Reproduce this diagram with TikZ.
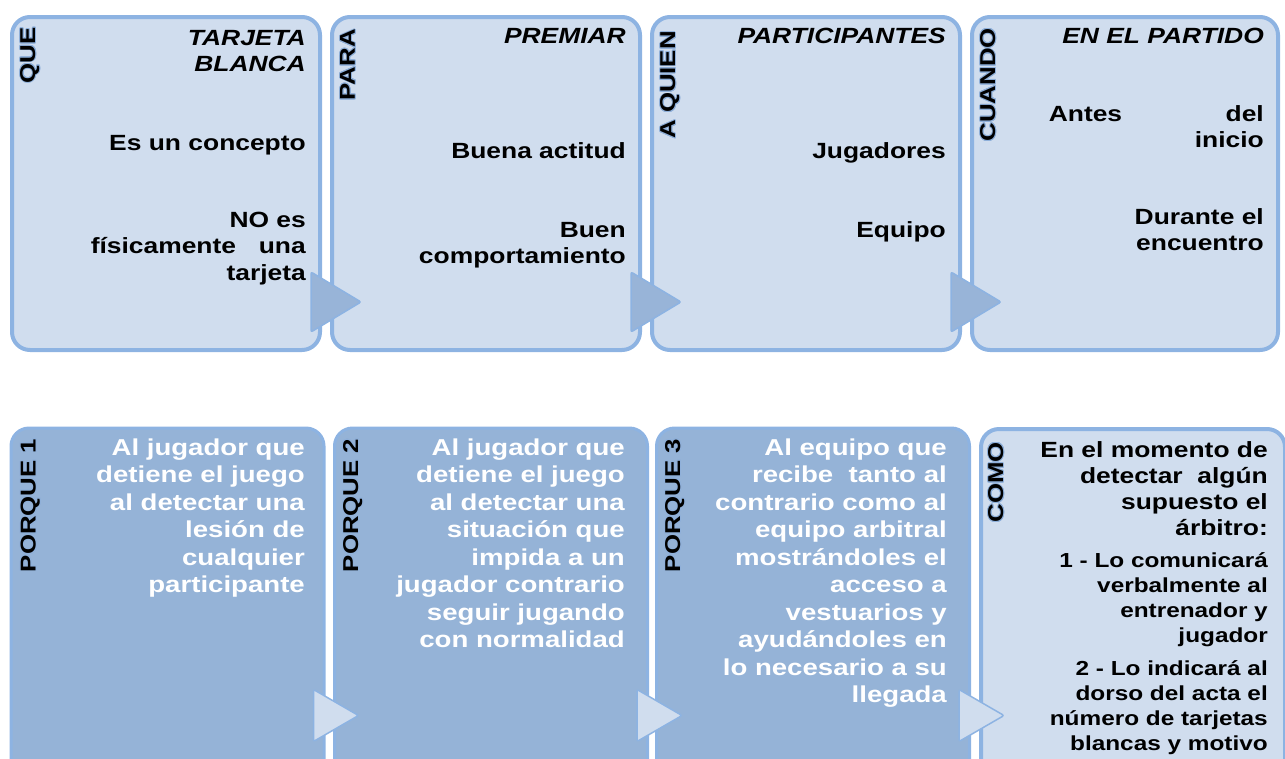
\documentclass[tikz,border=0pt]{standalone}
\usepackage{fontspec}
\setmainfont{Liberation Sans}[FakeStretch=1.2]
\usepackage[copies]{contour}
\contourlength{0.9pt}
\usetikzlibrary{calc}

\definecolor{cardfill}{HTML}{D0DDEE}
\definecolor{cardline}{HTML}{8DB3E2}
\definecolor{darkfill}{HTML}{95B3D7}
\definecolor{arrowfill}{HTML}{98B4D8}
\definecolor{glow}{HTML}{8FB0DA}

\tikzset{
  card/.style={draw=cardline, line width=4pt, fill=cardfill, rounded corners=18pt,
    anchor=north west, minimum width=308pt, minimum height=333pt, inner sep=0pt},
  darkcard/.style={card, fill=darkfill, line width=3pt, minimum width=313pt, minimum height=400pt},
  toptri/.style={fill=arrowfill, draw=cardline, line width=1.5pt, rounded corners=2pt},
  bottri/.style={fill=cardfill, draw=cardline, line width=1.5pt, rounded corners=2pt},
  % base anchor of a multi-line node = baseline of its last line
  txt/.style={anchor=base east, align=right, inner sep=0pt, font=\fontsize{22}{26.5}\selectfont\bfseries},
  head/.style={txt, font=\fontsize{22}{26.5}\selectfont\bfseries\itshape},
  wtxt/.style={txt, text=white, font=\fontsize{23}{27.5}\selectfont\bfseries},
  small/.style={txt, font=\fontsize{20.3}{25.2}\selectfont\bfseries},
  side/.style={rotate=90, anchor=north east, inner sep=0pt, font=\fontsize{21.5}{24}\selectfont\bfseries}
}

\begin{document}
\begin{tikzpicture}[x=1pt,y=-1pt]
  \useasboundingbox (0,0) rectangle (1285,758);
  \clip (0,0) rectangle (1285,758);

  % top row: que / para / a quien / cuando
  \node[card] (que) at (10,15) {};
  \node[card] (para) at (330,15) {};
  \node[card] (quien) at (650,15) {};
  \node[card, minimum width=306pt] (cuando) at (970,15) {};

  % bottom row: porque 1..3 / como
  \node[darkcard] (porA) at (9.5,426.5) {};
  \node[darkcard] (porB) at (333,426.5) {};
  \node[darkcard] (porC) at (655,426.5) {};
  \node[card, minimum width=304pt, minimum height=400pt] (como) at (979,427) {};

  % chevrons between the cards
  \foreach \b in {que,para,quien}
    \draw[toptri] ([shift={(-11,257)}]\b.north east) -- ++(50,30) -- ++(-50,30) -- cycle;
  \foreach \b in {porA,porB,porC}
    \draw[bottri] ([shift={(-12,263)}]\b.north east) -- ++(45,26) -- ++(-45,26) -- cycle;

  % side titles
  \node[side] (queSide) at ([shift={(10,12)}]que.north west) {\contour{glow}{QUE}};
  \node[side] (paraSide) at ([shift={(10,14)}]para.north west) {\contour{glow}{PARA}};
  \node[side] (quienSide) at ([shift={(10,16)}]quien.north west) {\contour{glow}{A QUIEN}};
  \node[side] (cuandoSide) at ([shift={(10,13)}]cuando.north west) {\contour{glow}{CUANDO}};
  \node[side] (porASide) at ([shift={(11,12)}]porA.north west) {\contour{glow}{PORQUE 1}};
  \node[side] (porBSide) at ([shift={(10,12)}]porB.north west) {\contour{glow}{PORQUE 2}};
  \node[side] (porCSide) at ([shift={(10,12)}]porC.north west) {\contour{glow}{PORQUE 3}};
  \node[side] (comoSide) at ([shift={(9,15)}]como.north west) {\contour{glow}{COMO}};

  % top texts
  \node[head] (queHead) at ([shift={(-16,56.5)}]que.north east) {TARJETA\\BLANCA};
  \node[txt] (queA) at ([shift={(-16,135)}]que.north east) {Es un concepto};
  \node[txt] (queB) at ([shift={(-16,265)}]que.north east)
    {NO es\\\makebox[215pt][s]{físicamente una}\\tarjeta};

  \node[head] (paraHead) at ([shift={(-16,28)}]para.north east) {PREMIAR};
  \node[txt] (paraA) at ([shift={(-16,143)}]para.north east) {Buena actitud};
  \node[txt] (paraB) at ([shift={(-16,248.5)}]para.north east) {Buen\\comportamiento};

  \node[head] (quienHead) at ([shift={(-16,28)}]quien.north east) {PARTICIPANTES};
  \node[txt] (quienA) at ([shift={(-16,143)}]quien.north east) {Jugadores};
  \node[txt] (quienB) at ([shift={(-16,222)}]quien.north east) {Equipo};

  \node[head] (cuandoHead) at ([shift={(-16,28)}]cuando.north east) {EN EL PARTIDO};
  \node[txt] (cuandoA) at ([shift={(-16,132.5)}]cuando.north east)
    {\makebox[215pt][s]{Antes del}\\inicio};
  \node[txt] (cuandoB) at ([shift={(-16,235.5)}]cuando.north east) {Durante el\\encuentro};

  % bottom texts
  \node[wtxt] (porAText) at ([shift={(295.5,166)}]porA.north west)
    {Al jugador que\\detiene el juego\\al detectar una\\lesión de\\cualquier\\participante};
  \node[wtxt] (porBText) at ([shift={(292,221)}]porB.north west)
    {Al jugador que\\detiene el juego\\al detectar una\\situación que\\impida a un\\jugador contrario\\seguir jugando\\con normalidad};
  \node[wtxt] (porCText) at ([shift={(292,276)}]porC.north west)
    {Al equipo que\\recibe~ tanto al\\contrario como al\\equipo arbitral\\mostrándoles el\\acceso a\\vestuarios y\\ayudándoles en\\lo necesario a su\\llegada};

  \node[txt, font=\fontsize{22}{26}\selectfont\bfseries] (comoA) at ([shift={(289,108)}]como.north west)
    {En el momento de\\detectar~ algún\\supuesto el\\árbitro:};
  \node[small] (comoB) at ([shift={(289,215.6)}]como.north west)
    {1 - Lo comunicará\\verbalmente al\\entrenador y\\jugador};
  \node[small] (comoC) at ([shift={(289,323.6)}]como.north west)
    {2 - Lo indicará al\\dorso del acta el\\número de tarjetas\\blancas y motivo};
\end{tikzpicture}
\end{document}
